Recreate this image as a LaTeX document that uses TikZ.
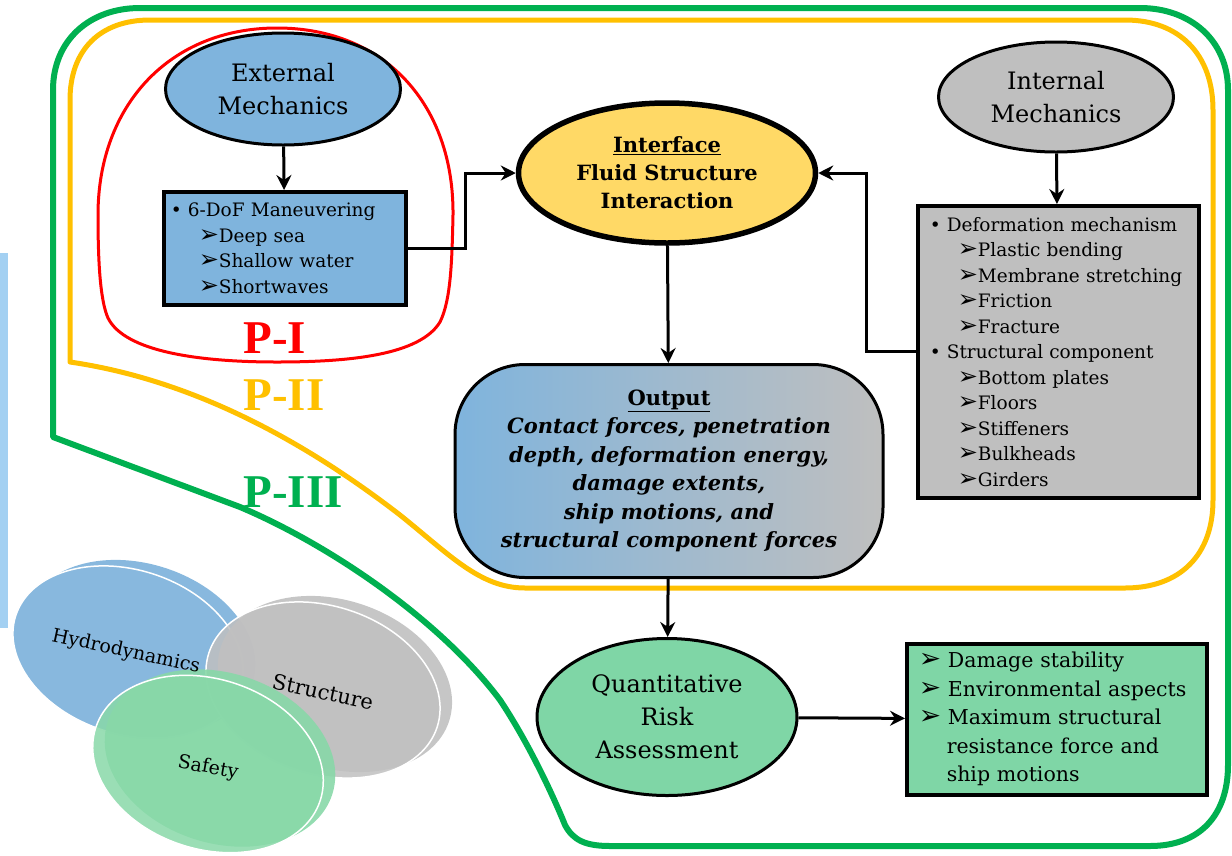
\documentclass[tikz,border=0pt]{standalone}
\usepackage{fontspec}
\setmainfont{DejaVu Serif}
\newfontfamily\plabelfont{Liberation Serif}
\newfontfamily\arrowfont{DejaVu Sans}
\usetikzlibrary{arrows.meta,shapes.geometric}

\definecolor{extblue}{RGB}{127,180,221}
\definecolor{intgray}{RGB}{191,191,191}
\definecolor{fsiyellow}{RGB}{255,217,102}
\definecolor{qragreen}{RGB}{127,214,166}
\definecolor{pone}{RGB}{255,0,0}
\definecolor{ptwo}{RGB}{255,192,0}
\definecolor{pthree}{RGB}{0,176,80}
\definecolor{waterblue}{RGB}{163,208,242}
\definecolor{vennblue}{RGB}{136,184,222}
\definecolor{venngray}{RGB}{192,192,192}
\definecolor{venngreen}{RGB}{136,216,168}

\newcommand{\arrowglyph}{\scalebox{1.3}{\arrowfont ➢}}
\newcommand{\subpt}{\hspace*{28pt}\arrowglyph}
\newcommand{\respt}{\arrowglyph\ }

\tikzset{
  listbox/.style={draw=black, line width=3.5pt, align=left, inner ysep=0pt, anchor=north west},
  oval/.style={ellipse, draw=black, line width=3pt, inner sep=0pt, align=center},
  conn/.style={line width=3pt, -{Stealth[length=15pt,width=15pt,inset=5pt]}},
  vennlabel/.style={font=\fontsize{19}{20}\selectfont},
  plabel/.style={anchor=west, font=\plabelfont\bfseries\fontsize{47}{47}\selectfont}
}

\begin{document}
\begin{tikzpicture}[x=1pt,y=-1pt]
    \useasboundingbox (0,0) rectangle (1232,855);

    % phase outlines
    \draw[pthree, line width=6pt, line join=round] (53,437) -- (240,507)
        .. controls (330,545) and (440,620) .. (500,700)
        .. controls (530,745) and (555,800) .. (565,825)
        .. controls (573,840) and (585,846) .. (610,846) -- (1150,846)
        .. controls (1200,846) and (1228,815) .. (1228,765) -- (1228,90)
        .. controls (1228,40) and (1190,8) .. (1140,8) -- (140,8)
        .. controls (90,8) and (53,40) .. (53,90) -- cycle;
    \draw[ptwo, line width=5pt, line join=round] (70,362)
        .. controls (180,378) and (290,430) .. (400,515)
        .. controls (450,555) and (480,588) .. (525,588) -- (1125,588)
        .. controls (1180,588) and (1213,555) .. (1213,500) -- (1213,110)
        .. controls (1213,55) and (1180,20) .. (1125,20) -- (150,20)
        .. controls (100,20) and (70,50) .. (70,100) -- cycle;
    \draw[pone, line width=3pt] (98,215)
        .. controls (98,105) and (170,28) .. (277,28)
        .. controls (385,28) and (454,105) .. (453,215)
        .. controls (452,260) and (451,300) .. (440,322)
        .. controls (420,355) and (350,362) .. (277,362)
        .. controls (200,362) and (125,352) .. (108,318)
        .. controls (100,300) and (98,260) .. (98,215) -- cycle;

    \node[plabel, text=pone] (pI) at (240,338) {P-I};
    \node[plabel, text=ptwo] (pII) at (240,395) {P-II};
    \node[plabel, text=pthree] (pIII) at (240,492) {P-III};

    % water strip
    \fill[waterblue] (0,253) rectangle (8,628);

    % venn
    \fill[vennblue, rotate around={-18:(140,646)}] (140,646) ellipse [x radius=118, y radius=82];
    \filldraw[vennblue, draw=white, line width=1.5pt, rotate around={-18:(128,652)}] (128,652) ellipse [x radius=118, y radius=82];
    \fill[venngray, fill opacity=0.9, rotate around={-18:(335,684)}] (335,684) ellipse [x radius=120, y radius=84];
    \filldraw[venngray, fill opacity=0.85, draw=white, line width=1.5pt, rotate around={-18:(323,690)}] (323,690) ellipse [x radius=120, y radius=84];
    \fill[venngreen, fill opacity=0.9, rotate around={-18:(220,758)}] (220,758) ellipse [x radius=118, y radius=85];
    \filldraw[venngreen, fill opacity=0.85, draw=white, line width=1.5pt, rotate around={-18:(208,764)}] (208,764) ellipse [x radius=118, y radius=85];
    \node[vennlabel, rotate=-12] (hydro) at (126,652) {Hydrodynamics};
    \node[vennlabel, font=\fontsize{21}{22}\selectfont, rotate=-12] (struct) at (323,692) {Structure};
    \node[vennlabel, rotate=-10] (safety) at (208,768) {Safety};

    % nodes
    \node[oval, fill=extblue, minimum width=235, minimum height=112,
          font=\fontsize{24}{33}\selectfont] (ext) at (283,89) {External\\Mechanics};
    \node[oval, fill=intgray, minimum width=235, minimum height=110,
          font=\fontsize{24}{33}\selectfont] (int) at (1056,97) {Internal\\Mechanics};
    \node[oval, fill=fsiyellow, line width=5.5pt, minimum width=297, minimum height=140,
          font=\bfseries\fontsize{21}{28}\selectfont] (fsi) at (667,173)
          {\underline{Interface}\\Fluid Structure\\Interaction};

    \node[listbox, fill=extblue, minimum width=242, minimum height=113, inner xsep=7pt,
          text width=228, font=\fontsize{18.5}{25.5}\selectfont] (dof) at (162,190)
          {\textbullet\ 6-DoF Maneuvering\\
           \subpt Deep sea\\
           \subpt Shallow water\\
           \subpt Shortwaves};

    \node[listbox, fill=intgray, minimum width=281, minimum height=292, inner xsep=12pt,
          text width=257, font=\fontsize{18.5}{25.5}\selectfont] (def) at (916,204)
          {\textbullet\ Deformation mechanism\\
           \subpt Plastic bending\\
           \subpt Membrane stretching\\
           \subpt Friction\\
           \subpt Fracture\\
           \textbullet\ Structural component\\
           \subpt Bottom plates\\
           \subpt Floors\\
           \subpt Stiffeners\\
           \subpt Bulkheads\\
           \subpt Girders};

    \node[draw=black, line width=3pt, rounded corners=70pt, minimum width=428, minimum height=213,
          left color=extblue, middle color=intgray!60!extblue, right color=intgray,
          align=center, inner sep=0pt, font=\bfseries\itshape\fontsize{21}{28.5}\selectfont] (out) at (669,471)
          {{\upshape\underline{Output}}\\
           Contact forces, penetration\\
           depth, deformation energy,\\
           damage extents,\\
           ship motions, and\\
           structural component forces};

    \node[oval, fill=qragreen, minimum width=260, minimum height=157,
          font=\fontsize{24}{33}\selectfont] (qra) at (667,717) {Quantitative\\Risk\\Assessment};

    \node[listbox, fill=qragreen, minimum width=300, minimum height=151, inner xsep=12pt,
          text width=276, font=\fontsize{20.5}{28.5}\selectfont] (res) at (905,642)
          {\respt Damage stability\\
           \respt Environmental aspects\\
           \respt Maximum structural\\
           \hspace*{28pt}resistance force and\\
           \hspace*{28pt}ship motions};

    % connectors
    \draw[conn] (ext) -- (dof);
    \draw[conn] (int) -- (def);
    \draw[conn] (dof.east) -- ++(58,0) |- (fsi.west);
    \draw[conn] (def.west) -- ++(-50,0) |- (fsi.east);
    \draw[conn] (fsi) -- (out);
    \draw[conn] (out) -- (qra);
    \draw[conn] (qra) -- (res);
\end{tikzpicture}
\end{document}
